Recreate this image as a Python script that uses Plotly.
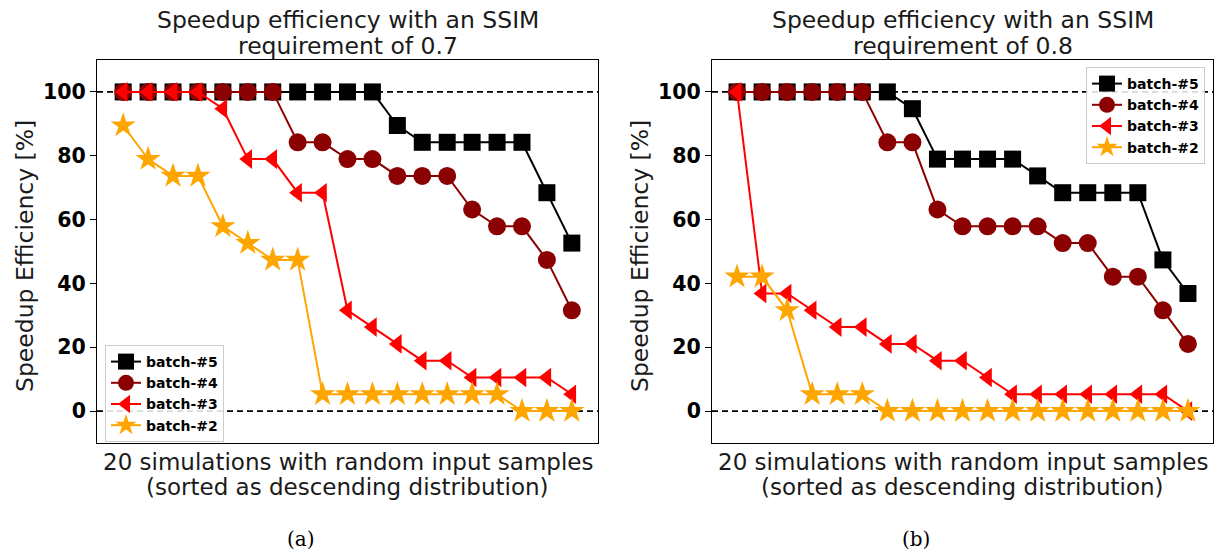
import plotly.graph_objects as go

# ---------------- data ----------------
sim_index = list(range(19))
series_names = ["batch-#5", "batch-#4", "batch-#3", "batch-#2"]

u = 100 / 19  # one simulation step (percent)

# SSIM requirement 0.7  (counts out of 19, converted to percent)
a_batch5 = [19]*11 + [17] + [16]*5 + [13, 10]
a_batch4 = [19]*7 + [16, 16, 15, 15, 14, 14, 14, 12, 11, 11, 9, 6]
a_batch3 = [19]*4 + [18, 15, 15, 13, 13, 6, 5, 4, 3, 3, 2, 2, 2, 2, 1]
a_batch2 = [17, 15, 14, 14, 11, 10, 9, 9] + [1]*8 + [0]*3

# SSIM requirement 0.8
b_batch5 = [19]*7 + [18, 15, 15, 15, 15, 14, 13, 13, 13, 13, 9, 7]
b_batch4 = [19]*6 + [16, 16, 12, 11, 11, 11, 11, 10, 10, 8, 8, 6, 4]
b_batch3 = [19, 7, 7, 6, 5, 5, 4, 4, 3, 3, 2] + [1]*7 + [0]
b_batch2 = [8, 8, 6, 1, 1, 1] + [0]*13

panel_a = [a_batch5, a_batch4, a_batch3, a_batch2]
panel_b = [b_batch5, b_batch4, b_batch3, b_batch2]

title_lines = [["Speedup efficiency with an SSIM", "requirement of 0.7"],
               ["Speedup efficiency with an SSIM", "requirement of 0.8"]]
x_title_lines = ["20 simulations with random input samples",
                 "(sorted as descending distribution)"]
y_title = "Speedup Efficiency [%]"
y_ticks = [0, 20, 40, 60, 80, 100]
captions = ["(a)", "(b)"]

# ---------------- style ----------------
colors = ["#000000", "#8B0000", "#FF0000", "#FFA500"]
symbols = ["square", "circle", "triangle-left", "star"]
sizes = [17, 18, 17, 19]
FONT = "DejaVu Sans"
W, H = 1222, 554

fig = go.Figure()

px_x = [[97, 598], [712, 1213]]
dom_x = [[a / W, b / W] for a, b in px_x]
dom_y = [1 - 443 / H, 1 - 60 / H]

for p, panel in enumerate([panel_a, panel_b]):
    xa = "x" if p == 0 else "x2"
    ya = "y" if p == 0 else "y2"
    leg = "legend" if p == 0 else "legend2"
    for i, vals in enumerate(panel):
        fig.add_trace(go.Scatter(
            x=sim_index, y=[v * u for v in vals],
            mode="lines+markers", name="<b>" + series_names[i] + "</b>",
            line=dict(color=colors[i], width=2),
            marker=dict(symbol=symbols[i], size=sizes[i], color=colors[i]),
            xaxis=xa, yaxis=ya, legend=leg, showlegend=True,
        ))
    for yv in (0, 100):
        fig.add_shape(type="line", xref=f"{xa} domain", yref=ya,
                      x0=0, x1=1, y0=yv, y1=yv, layer="below",
                      line=dict(color="black", width=1.6, dash="6px,4px"))

axis_common = dict(showline=True, linecolor="black", linewidth=1, mirror=True,
                   showgrid=False, zeroline=False)
yaxis_common = dict(range=[-10, 110], tickvals=y_ticks, ticks="outside", ticklen=6,
                    tickcolor="black",
                    tickfont=dict(size=20.5, weight="bold", color="black", family=FONT),
                    **axis_common)

fig.update_layout(
    width=W, height=H,
    margin=dict(l=0, r=0, t=0, b=0),
    paper_bgcolor="white", plot_bgcolor="white",
    font=dict(family=FONT, color="#1a1a1a"),
    xaxis=dict(domain=dom_x[0], range=[-1.05, 19.05], showticklabels=False, ticks="",
               anchor="y", **axis_common),
    xaxis2=dict(domain=dom_x[1], range=[-1.0, 19.0], showticklabels=False, ticks="",
                anchor="y2", **axis_common),
    yaxis=dict(domain=dom_y, anchor="x", **yaxis_common),
    yaxis2=dict(domain=dom_y, anchor="x2", **yaxis_common),
    legend=dict(x=105 / W, y=1 - 345 / H, xanchor="left", yanchor="top",
                bgcolor="rgba(255,255,255,0.85)", bordercolor="#cccccc", borderwidth=1,
                font=dict(size=14, color="black"), tracegroupgap=0),
    legend2=dict(x=1205 / W, y=1 - 67 / H, xanchor="right", yanchor="top",
                 bgcolor="rgba(255,255,255,0.85)", bordercolor="#cccccc", borderwidth=1,
                 font=dict(size=14, color="black"), tracegroupgap=0),
)

for p in range(2):
    cx = (dom_x[p][0] + dom_x[p][1]) / 2
    for k, (ln, ypx) in enumerate(zip(title_lines[p], [20, 46])):
        fig.add_annotation(text=ln, xref="paper", yref="paper",
                           x=cx, y=1 - ypx / H, xanchor="center", yanchor="middle",
                           showarrow=False, font=dict(size=23.5, family=FONT, color="#1a1a1a"))
    for ln, ypx in zip(x_title_lines, [462, 487]):
        fig.add_annotation(text=ln, xref="paper", yref="paper",
                           x=cx, y=1 - ypx / H, xanchor="center", yanchor="middle",
                           showarrow=False, font=dict(size=23, family=FONT, color="#1a1a1a"))
    fig.add_annotation(text=y_title, xref="paper", yref="paper", textangle=-90,
                       x=(px_x[p][0] - 72) / W, y=1 - 256 / H, xanchor="center", yanchor="middle",
                       showarrow=False, font=dict(size=23.5, family=FONT, color="#1a1a1a"))
    fig.add_annotation(text=captions[p], xref="paper", yref="paper",
                       x=[301 / W, 916 / W][p], y=1 - 539 / H, xanchor="center", yanchor="middle",
                       showarrow=False, font=dict(size=20, family="DejaVu Serif", color="black"))

fig.write_html("out.html", config={"displayModeBar": False},
               post_script="document.body.style.margin='0';document.body.style.overflow='hidden';")
